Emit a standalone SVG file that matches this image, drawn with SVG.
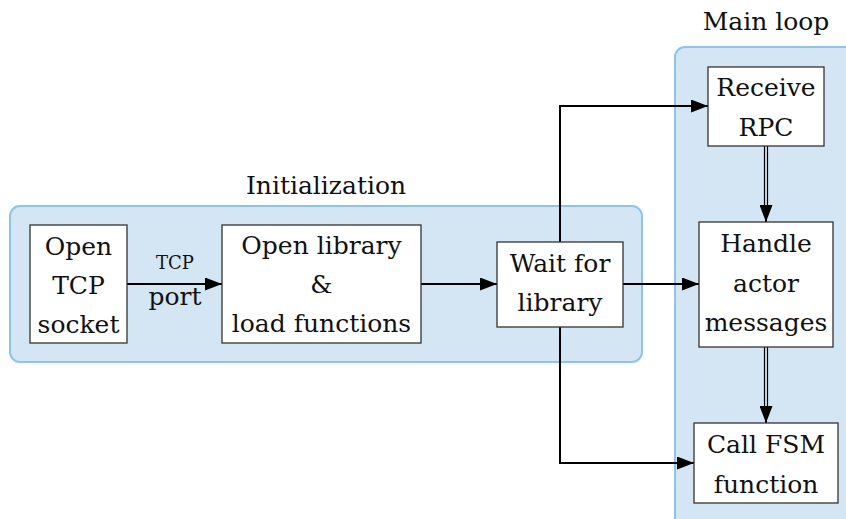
<svg xmlns="http://www.w3.org/2000/svg" width="846" height="519" viewBox="0 0 846 519">
<style>
.cont{fill:#d4e6f4;stroke:#8fc4ea;stroke-width:2}
.box{fill:#fff;stroke:#333;stroke-width:1.3}
text{font-family:"DejaVu Serif","Liberation Serif",serif;font-size:25px;fill:#111;text-anchor:middle}
.sm{font-size:18px}
.ln{fill:none;stroke:#000;stroke-width:2}
.dl{fill:none;stroke:#000;stroke-width:1.2}
</style>
<defs>
<marker id="ah" viewBox="0 0 17 13" refX="17" refY="6.5" markerWidth="17" markerHeight="13" markerUnits="userSpaceOnUse" orient="auto">
<path d="M0,0 L17,6.5 L0,13 Z" fill="#000"/>
</marker>
</defs>
<g id="containers">
<rect class="cont" x="10" y="206" width="632" height="156" rx="10"/>
<rect class="cont" x="675" y="47" width="190" height="490" rx="10"/>
<text x="326" y="194">Initialization</text>
<text x="766" y="30">Main loop</text>
</g>
<g id="connectors">
<line class="ln" x1="127" y1="284" x2="222" y2="284" marker-end="url(#ah)"/>
<line class="ln" x1="421" y1="284" x2="497" y2="284" marker-end="url(#ah)"/>
<line class="ln" x1="623" y1="284" x2="699" y2="284" marker-end="url(#ah)"/>
<polyline class="ln" points="560,242 560,106 708,106" marker-end="url(#ah)"/>
<polyline class="ln" points="560,327 560,463 694,463" marker-end="url(#ah)"/>
<line class="dl" x1="764.5" y1="146" x2="764.5" y2="210"/>
<line class="dl" x1="767.5" y1="146" x2="767.5" y2="210"/>
<line class="ln" x1="766" y1="205" x2="766" y2="222" marker-end="url(#ah)" stroke-width="0.1"/>
<line class="dl" x1="764.5" y1="347" x2="764.5" y2="411"/>
<line class="dl" x1="767.5" y1="347" x2="767.5" y2="411"/>
<line class="ln" x1="766" y1="406" x2="766" y2="423" marker-end="url(#ah)" stroke-width="0.1"/>
<text class="sm" x="175" y="269">TCP</text>
<text x="175" y="305">port</text>
</g>
<g id="n-socket">
<rect class="box" x="30" y="225" width="97" height="118"/>
<text x="78.5" y="255">Open</text>
<text x="78.5" y="294">TCP</text>
<text x="78.5" y="333">socket</text>
</g>
<g id="n-library">
<rect class="box" x="222" y="225" width="199" height="118"/>
<text x="321.5" y="254">Open library</text>
<text x="321.5" y="293">&amp;</text>
<text x="321.5" y="332">load functions</text>
</g>
<g id="n-wait">
<rect class="box" x="497" y="242" width="126" height="85"/>
<text x="560" y="272">Wait for</text>
<text x="560" y="311">library</text>
</g>
<g id="n-rpc">
<rect class="box" x="708" y="67" width="116" height="79"/>
<text x="766" y="96">Receive</text>
<text x="766" y="136">RPC</text>
</g>
<g id="n-handle">
<rect class="box" x="699" y="222" width="134" height="125"/>
<text x="766" y="252">Handle</text>
<text x="766" y="292">actor</text>
<text x="766" y="331">messages</text>
</g>
<g id="n-fsm">
<rect class="box" x="694" y="423" width="144" height="80"/>
<text x="766" y="453">Call FSM</text>
<text x="766" y="493">function</text>
</g>
</svg>
